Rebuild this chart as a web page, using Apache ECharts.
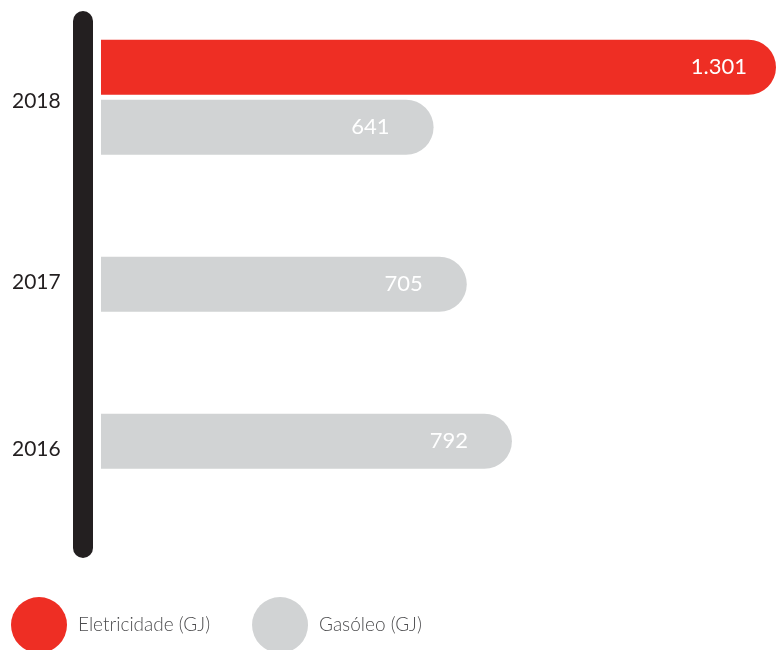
<!DOCTYPE html>
<html>
<head>
<meta charset="utf-8">
<script src="https://cdn.jsdelivr.net/npm/echarts@6/dist/echarts.min.js"></script>
<style>html,body{margin:0;padding:0;background:#fff;}#chart{width:776px;height:650px;}</style>
</head>
<body>
<div id="chart"></div>
<script>
var years = ['2016', '2017', '2018'];
var eletricidade = [null, null, 1301];
var gasoleo = [792, 705, 641];
var seriesNames = ['Eletricidade (GJ)', 'Gasóleo (GJ)'];

var RED = '#EE2E24', GRAY = '#D1D3D4', DARK = '#231F20';
var FONT = 'Lato';
var labelShift = { '2018': 4, '2017': 28, '2016': 38 };

function fmtPt(v) {
  return String(v).replace(/\B(?=(\d{3})+(?!\d))/g, '.');
}

var rich = {};
years.forEach(function (y) {
  rich['y' + y] = {
    fontFamily: FONT, fontSize: 21, color: DARK,
    padding: [labelShift[y] * 2, 0, 0, 0]
  };
});

var chart = echarts.init(document.getElementById('chart'));
chart.setOption({
  animation: false,
  grid: { left: 101, right: 0, top: 18.75, bottom: 160.25, containLabel: false },
  xAxis: { type: 'value', min: 0, max: 1301, show: false },
  yAxis: {
    type: 'category', data: years,
    axisLine: { show: false }, axisTick: { show: false }, splitLine: { show: false },
    axisLabel: {
      margin: 89, align: 'left',
      formatter: function (v) { return '{y' + v + '|' + v + '}'; },
      rich: rich
    }
  },
  legend: {
    left: 11, top: 597, padding: 0, itemWidth: 56, itemHeight: 56, itemGap: 42,
    icon: 'circle',
    textStyle: { fontFamily: FONT, fontSize: 19, color: '#4d4d4f', fontWeight: 300, padding: [0, 0, 0, 6] },
    data: seriesNames
  },
  graphic: [{
    type: 'rect', left: 73, top: 11, z: 10,
    shape: { width: 20, height: 547, r: 10 },
    style: { fill: DARK }
  }],
  series: [
    {
      name: seriesNames[0], type: 'bar', barWidth: 55, barGap: '9%',
      itemStyle: { color: RED, borderRadius: [0, 28, 28, 0] },
      label: {
        show: true, position: 'insideRight', distance: 29, color: '#fff',
        fontFamily: FONT, fontSize: 22, formatter: function (p) { return fmtPt(p.value); }
      },
      data: eletricidade
    },
    {
      name: seriesNames[1], type: 'bar', barWidth: 55, barGap: '9%',
      itemStyle: { color: GRAY, borderRadius: [0, 28, 28, 0] },
      label: {
        show: true, position: 'insideRight', distance: 44, color: '#fff',
        fontFamily: FONT, fontSize: 22, formatter: function (p) { return fmtPt(p.value); }
      },
      data: gasoleo
    }
  ]
});
</script>
</body>
</html>
